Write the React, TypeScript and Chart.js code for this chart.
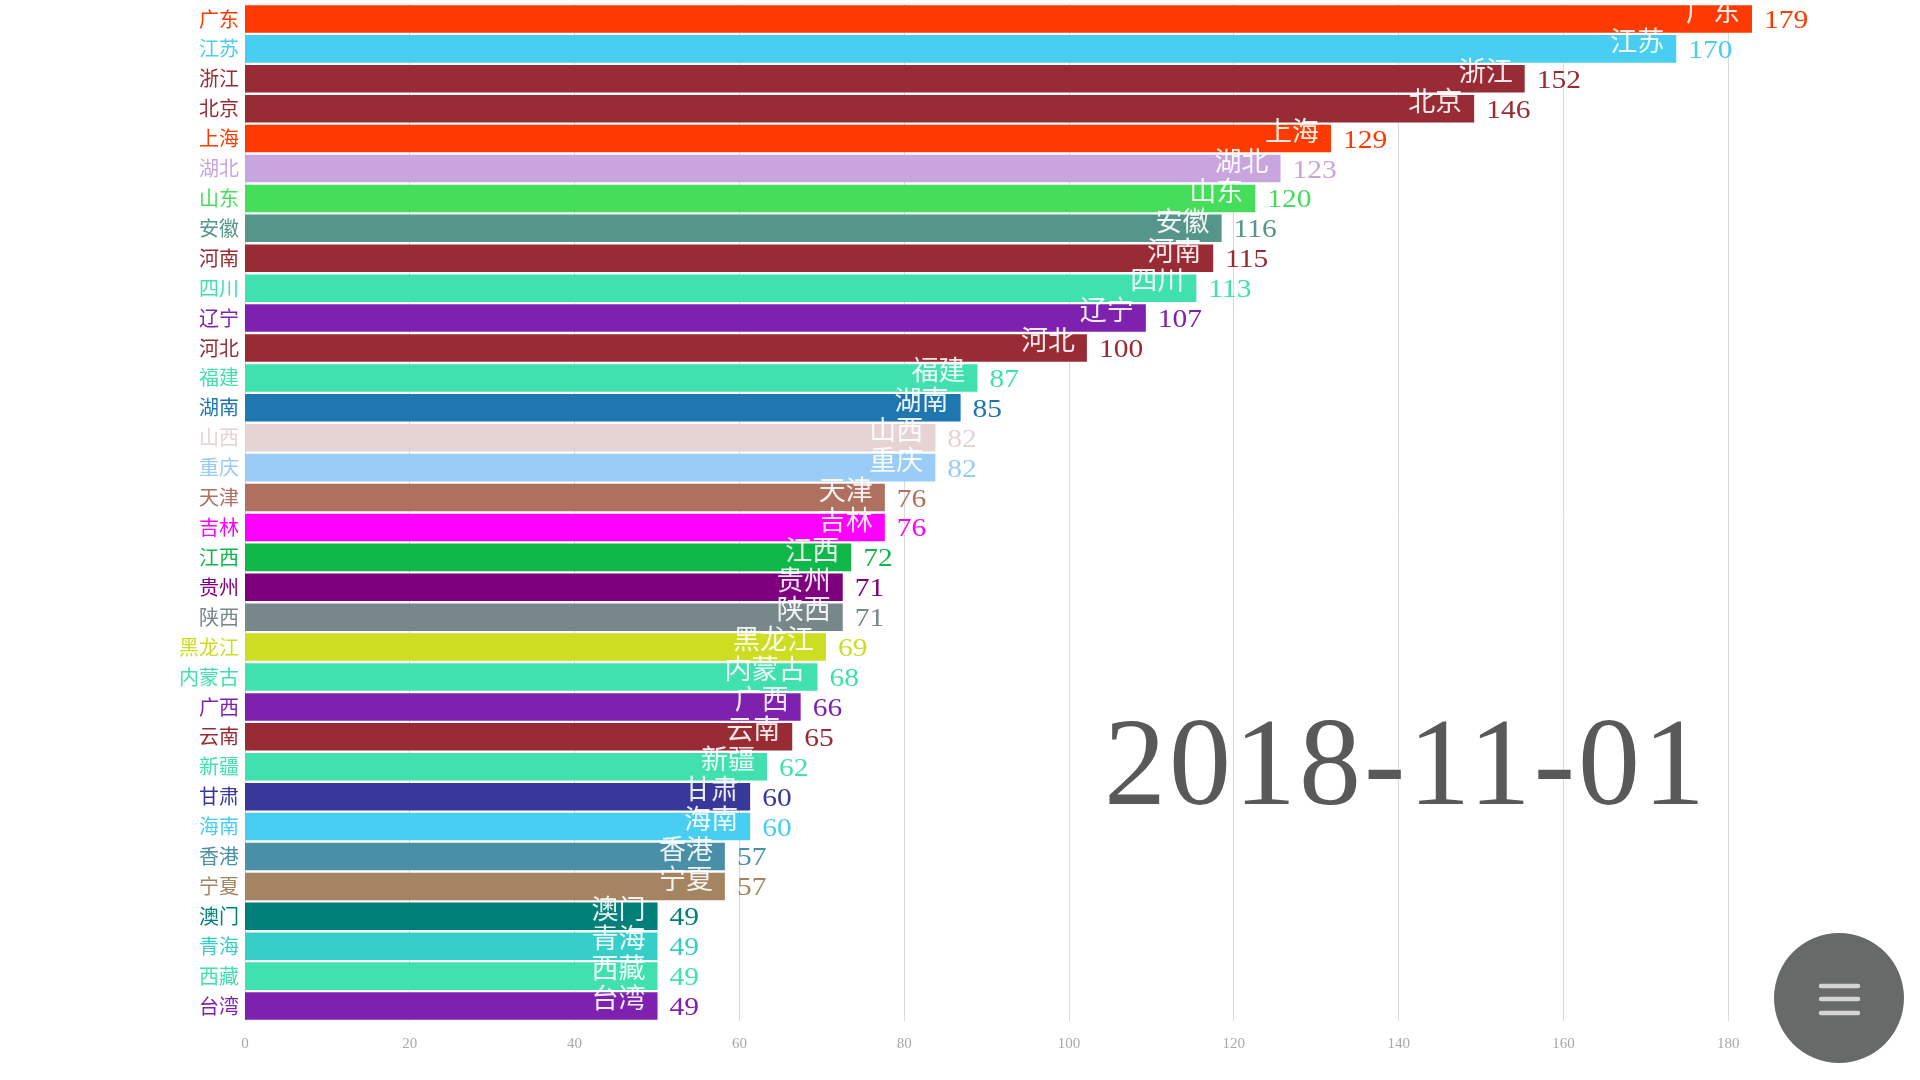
import React, { useEffect, useRef } from "react";
import { Chart, registerables } from "chart.js";

Chart.register(...registerables);

const provinces = ["广东","江苏","浙江","北京","上海","湖北","山东","安徽","河南","四川","辽宁","河北","福建","湖南","山西","重庆","天津","吉林","江西","贵州","陕西","黑龙江","内蒙古","广西","云南","新疆","甘肃","海南","香港","宁夏","澳门","青海","西藏","台湾"];
const counts = [179,170,152,146,129,123,120,116,115,113,107,100,87,85,82,82,76,76,72,71,71,69,68,66,65,62,60,60,57,57,49,49,49,49];
const barColors = ["#FF3A00","#48CEF0","#982B33","#982B33","#FF3A00","#C9A5DF","#45DE5A","#56958A","#982B33","#40E0AF","#7F21AF","#982B33","#40E0AF","#1F77B0","#E6D3D3","#9ACCF8","#B07060","#FF00FF","#10B84A","#7E007E","#77878A","#CCDD22","#40E0AF","#7F21AF","#982B33","#40E0AF","#38389A","#48CEF0","#4A8FA8","#A58462","#008078","#38CEC8","#40E0AF","#7F21AF"];
const gridTicks = [0,20,40,60,80,100,120,140,160,180];
const dateLabel = "2018-11-01";

const SERIF = '"Liberation Serif", "Noto Sans CJK SC", serif';
const CJK = '"Noto Sans CJK SC", "Liberation Serif", sans-serif';

export default function App() {
  const ref = useRef<HTMLCanvasElement | null>(null);

  useEffect(() => {
    const canvas = ref.current;
    if (!canvas) return;

    const overlay = {
      id: "raceOverlay",
      afterDatasetsDraw(chart: any) {
        const ctx = chart.ctx;
        const meta = chart.getDatasetMeta(0);
        ctx.save();
        meta.data.forEach((bar: any, i: number) => {
          const x = bar.x;
          const y = bar.y;
          ctx.save();
          ctx.translate(x + 12, y + 9);
          ctx.scale(1.18, 1);
          ctx.font = `25px ${SERIF}`;
          ctx.fillStyle = barColors[i];
          ctx.textAlign = "left";
          ctx.textBaseline = "alphabetic";
          ctx.fillText(String(counts[i]), 0, 0);
          ctx.restore();
          ctx.font = `27px ${CJK}`;
          ctx.fillStyle = "rgba(255,255,255,0.9)";
          ctx.textAlign = "right";
          ctx.textBaseline = "middle";
          ctx.fillText(provinces[i], x - 12, y - 8);
        });
        ctx.restore();
      },
      afterDraw(chart: any) {
        const ctx = chart.ctx;
        ctx.save();
        ctx.font = `124px ${SERIF}`;
        ctx.fillStyle = "#595959";
        ctx.textAlign = "right";
        ctx.textBaseline = "alphabetic";
        try { (ctx as any).letterSpacing = "3px"; } catch (e) {}
        ctx.fillText(dateLabel, 1708, 804);
        try { (ctx as any).letterSpacing = "0px"; } catch (e) {}
        ctx.beginPath();
        ctx.arc(1839, 998, 65, 0, Math.PI * 2);
        ctx.fillStyle = "#686a6a";
        ctx.fill();
        ctx.strokeStyle = "#d4d4d4";
        ctx.lineWidth = 4.5;
        ctx.lineCap = "round";
        [986, 999, 1013].forEach((yy) => {
          ctx.beginPath();
          ctx.moveTo(1821, yy);
          ctx.lineTo(1858, yy);
          ctx.stroke();
        });
        ctx.restore();
      },
    };

    const chart = new Chart(canvas, {
      type: "bar",
      data: {
        labels: provinces,
        datasets: [
          {
            data: counts,
            backgroundColor: barColors,
            borderWidth: 0,
            xAxisID: "x",
            yAxisID: "y",
            categoryPercentage: 1,
            barPercentage: 0.92,
          },
        ],
      },
      options: {
        indexAxis: "y",
        animation: false,
        responsive: false,
        devicePixelRatio: 1,
        layout: { padding: { top: 4, right: 120, bottom: 0, left: 0 } },
        plugins: { legend: { display: false }, tooltip: { enabled: false } },
        scales: {
          x: {
            type: "linear",
            display: false,
            min: 0,
            max: 184.7,
          },
          xGrid: {
            type: "linear",
            axis: "x",
            position: "bottom",
            min: 0,
            max: 188.7,
            afterBuildTicks: (scale: any) => {
              scale.ticks = gridTicks.map((v) => ({ value: v }));
            },
            afterFit: (scale: any) => {
              scale.height = 59;
              scale.paddingLeft = 0;
              scale.paddingRight = 0;
            },
            grid: { color: "#d9d9d9", lineWidth: 1, drawTicks: false },
            border: { display: false },
            ticks: {
              padding: 14,
              color: "#a8a8a8",
              font: { family: SERIF, size: 15 },
            },
          },
          y: {
            type: "category",
            position: "left",
            afterFit: (scale: any) => {
              scale.width = 245;
              scale.paddingTop = 0;
              scale.paddingBottom = 0;
            },
            grid: { display: false, drawTicks: false },
            border: { display: false },
            ticks: {
              padding: 6,
              autoSkip: false,
              color: (c: any) => barColors[c.index] || "#666",
              font: { family: CJK, size: 20 },
            },
          },
        },
      },
      plugins: [overlay],
    } as any);

    return () => chart.destroy();
  }, []);

  return (
    <div style={{ position: "fixed", left: 0, top: 0, width: 1920, height: 1080, background: "#ffffff" }}>
      <canvas ref={ref} width={1920} height={1080} style={{ display: "block" }} />
    </div>
  );
}
